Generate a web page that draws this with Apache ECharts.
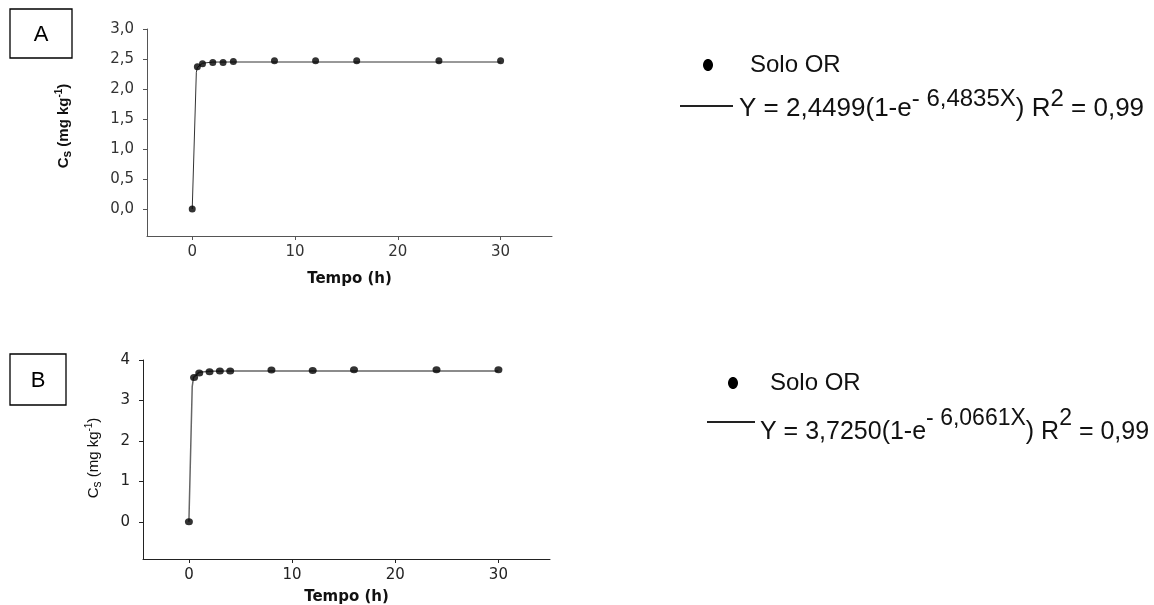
<!DOCTYPE html>
<html>
<head>
<meta charset="utf-8">
<script src="https://cdn.jsdelivr.net/npm/echarts@6/dist/echarts.min.js"></script>
<style>
  html, body { margin: 0; padding: 0; background: #fff; }
  #chart { width: 1154px; height: 605px; }
</style>
</head>
<body>
<div id="chart"></div>
<script>
// Sampling times (h) shared by both soils
const hours = [0, 0.5, 1, 2, 3, 4, 8, 12, 16, 24, 30];
// Sorbed Cs (mg kg-1), panel A and panel B
const csA = [0, 2.37, 2.42, 2.44, 2.44, 2.46, 2.47, 2.47, 2.47, 2.47, 2.47];
const csB = [0, 3.57, 3.68, 3.71, 3.73, 3.73, 3.75, 3.74, 3.76, 3.76, 3.76];
// Fitted kinetic curves, read as polylines
const fitHoursA = [0, 0.4, 0.5, 1, 2, 4, 30];
const fitA = [0, 2.28, 2.36, 2.43, 2.449, 2.45, 2.45];
const fitHoursB = [0, 0.32, 0.45, 1, 2, 4, 30];
const fitB = [0, 3.34, 3.57, 3.70, 3.724, 3.725, 3.725];
// Axis ticks
const xTicks = [0, 10, 20, 30];
const yTicksA = [0, 0.5, 1, 1.5, 2, 2.5, 3];
const yTicksB = [0, 1, 2, 3, 4];
// Legend texts: series name and fit coefficients [amplitude, rate, R2]
const seriesName = 'Solo OR';
const coefA = ['2,4499', '6,4835', '0,99'];
const coefB = ['3,7250', '6,0661', '0,99'];
const panelLetters = ['A', 'B'];

const chart = echarts.init(document.getElementById('chart'));

const measureCtx = document.createElement('canvas').getContext('2d');
function fontStr(size, weight, family) {
  return (weight || 'normal') + ' ' + size + 'px ' + family;
}
function textWidth(str, size, weight, family) {
  measureCtx.font = fontStr(size, weight, family);
  return measureCtx.measureText(str).width;
}
// Lays out text pieces side by side (for sub/superscripts)
function textRun(pieces, family, weight, color) {
  let x = 0;
  const children = pieces.map(p => {
    const el = {
      type: 'text', x: x, y: p.dy || 0,
      style: {
        text: p.text, font: fontStr(p.size, weight, family),
        fill: color, align: 'left', verticalAlign: 'middle'
      }
    };
    x += textWidth(p.text, p.size, weight, family);
    return el;
  });
  return { children: children, width: x };
}
function pointsOf(xs, ys) { return xs.map((x, i) => [x, ys[i]]); }

function timeAxis(gridIndex, min, color, labelColor) {
  return {
    type: 'value', gridIndex: gridIndex, min: min, max: 35,
    name: 'Tempo (h)', nameLocation: 'middle', nameGap: gridIndex === 0 ? 36 : 31,
    nameTextStyle: { fontFamily: 'DejaVu Sans', fontWeight: 'bold', fontSize: 15, color: '#111' },
    axisLine: { show: true, onZero: false, lineStyle: { color: color, width: 1 } },
    axisTick: { show: true, inside: false, length: 4, customValues: xTicks, lineStyle: { color: color } },
    axisLabel: { customValues: xTicks, margin: 9, fontFamily: 'DejaVu Sans', fontSize: 15, color: labelColor },
    splitLine: { show: false }
  };
}
function csAxis(gridIndex, min, max, ticks, fmt, color, labelColor) {
  return {
    type: 'value', gridIndex: gridIndex, min: min, max: max,
    axisLine: { show: true, onZero: false, lineStyle: { color: color, width: 1 } },
    axisTick: { show: true, inside: false, length: 4, customValues: ticks, lineStyle: { color: color } },
    axisLabel: { customValues: ticks, margin: 13, fontFamily: 'DejaVu Sans', fontSize: 15, color: labelColor, formatter: fmt },
    splitLine: { show: false }
  };
}

// Rotated y-axis titles: C_s (mg kg^-1)
function csTitle(cx, cy, weight, size) {
  const run = textRun([
    { text: 'C', size: size },
    { text: 's', size: size - 3, dy: 4 },
    { text: ' (mg kg', size: size },
    { text: '-1', size: size - 5, dy: -5 },
    { text: ')', size: size }
  ], 'Liberation Sans', weight, '#111');
  run.children.forEach(c => { c.x -= run.width / 2; });
  return { type: 'group', x: cx, y: cy, rotation: Math.PI / 2, children: run.children };
}

// Legend block: dot + name, line + fitted equation
function legendBlock(o, coef) {
  const eq = textRun([
    { text: 'Y = ' + coef[0] + '(1-e', size: o.base },
    { text: '- ' + coef[1] + 'X', size: o.sup, dy: o.supDy },
    { text: ') R', size: o.base },
    { text: '2', size: o.sup, dy: o.supDy },
    { text: ' = ' + coef[2], size: o.base }
  ], 'Liberation Sans', 'normal', '#111');
  return [
    { type: 'ellipse', shape: { cx: o.dotX, cy: o.dotY, rx: 5, ry: 6 }, style: { fill: '#000' } },
    { type: 'text', x: o.nameX, y: o.dotY, style: { text: seriesName, font: fontStr(24, 'normal', 'Liberation Sans'), fill: '#111', verticalAlign: 'middle' } },
    { type: 'line', shape: { x1: o.lineX1, y1: o.lineY, x2: o.lineX2, y2: o.lineY }, style: { stroke: '#222', lineWidth: 2 } },
    { type: 'group', x: o.eqX, y: o.eqY, children: eq.children }
  ];
}

function panelBox(x, y, w, h, letter) {
  return [
    { type: 'rect', shape: { x: x, y: y, width: w, height: h }, style: { fill: '#fff', stroke: '#000', lineWidth: 1.3 } },
    { type: 'text', x: x + w / 2, y: y + h / 2 + 1, style: { text: letter, font: fontStr(22, 'normal', 'Liberation Sans'), fill: '#000', align: 'center', verticalAlign: 'middle' } }
  ];
}

const graphics = [].concat(
  panelBox(10, 9, 62, 49, panelLetters[0]),
  panelBox(10, 354, 56, 51, panelLetters[1]),
  [csTitle(64, 126, 'bold', 15), csTitle(94, 458, 'normal', 15)],
  legendBlock({ dotX: 708, dotY: 65, nameX: 750, lineX1: 680, lineX2: 733, lineY: 106,
                eqX: 739, eqY: 109, base: 26, sup: 24, supDy: -10 }, coefA),
  legendBlock({ dotX: 733, dotY: 383, nameX: 770, lineX1: 707, lineX2: 755, lineY: 422,
                eqX: 760, eqY: 432, base: 25, sup: 23, supDy: -13 }, coefB)
);

chart.setOption({
  backgroundColor: '#fff',
  animation: false,
  grid: [
    { left: 147, top: 29, width: 405, height: 207, outerBoundsMode: 'none', containLabel: false },
    { left: 143, top: 360, width: 407, height: 199, outerBoundsMode: 'none', containLabel: false }
  ],
  xAxis: [
    timeAxis(0, -4.4, '#555', '#333'),
    timeAxis(1, -4.45, '#222', '#222')
  ],
  yAxis: [
    csAxis(0, -0.45, 3, yTicksA, v => v.toFixed(1).replace('.', ','), '#555', '#333'),
    csAxis(1, -0.92, 4, yTicksB, v => String(v), '#222', '#222')
  ],
  series: [
    { type: 'line', name: 'fitA', xAxisIndex: 0, yAxisIndex: 0, data: pointsOf(fitHoursA, fitA),
      showSymbol: false, lineStyle: { color: '#333', width: 1 }, z: 2 },
    { type: 'scatter', name: seriesName, xAxisIndex: 0, yAxisIndex: 0, data: pointsOf(hours, csA),
      symbol: 'circle', symbolSize: 7, itemStyle: { color: '#000' }, z: 3 },
    { type: 'line', name: 'fitB', xAxisIndex: 1, yAxisIndex: 1, data: pointsOf(fitHoursB, fitB),
      showSymbol: false, lineStyle: { color: '#666', width: 1.5 }, z: 2 },
    { type: 'scatter', name: seriesName, xAxisIndex: 1, yAxisIndex: 1, data: pointsOf(hours, csB),
      symbol: 'circle', symbolSize: [8, 7], itemStyle: { color: '#000' }, z: 3 }
  ],
  graphic: graphics
});
</script>
</body>
</html>
